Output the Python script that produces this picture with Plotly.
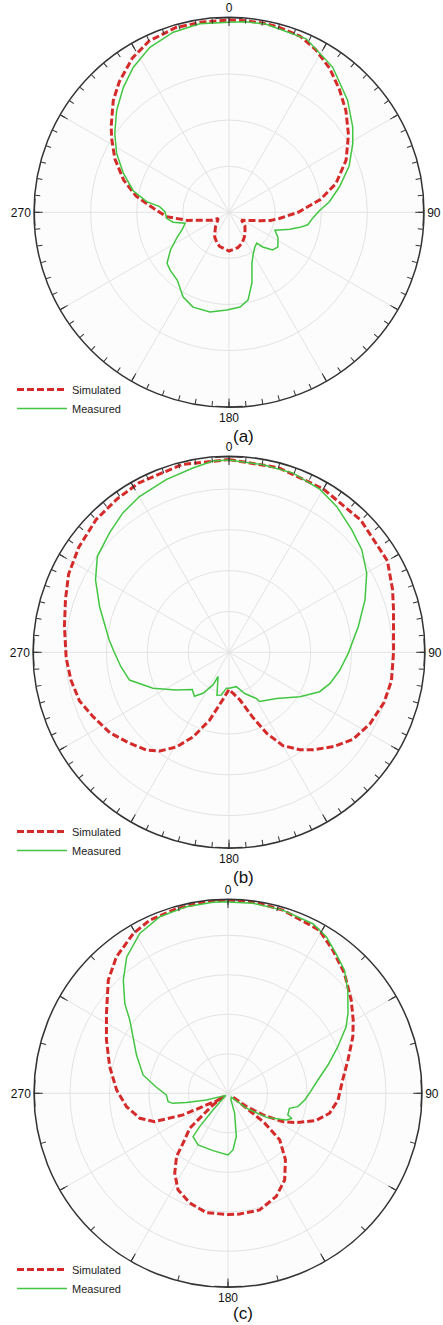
import plotly.graph_objects as go

# ---------------- data (angle in degrees, level in dB) ----------------
A_SIM_THETA = [0, 5, 10, 15, 22, 28, 35, 42, 49, 57, 66, 75, 82, 90, 97, 101, 105, 109, 115, 120, 122,
               130, 138, 148, 157, 166, 180, 195, 201, 210, 214, 223, 230, 240, 245, 250, 255, 259,
               266, 273, 280, 287, 295, 302, 306, 314, 320, 328, 335, 344, 352, 360]
A_SIM_DB = [1.7, 1.7, 1.7, 1.6, 1.2, 0.0, -1.9, -4.2, -6.4, -9.1, -12.2, -16.0, -20.0, -25.0, -29.0, -30.8,
            -33.0, -34.5, -35.8, -36.6, -36.8, -35.5, -34.8, -33.7, -32.7, -32.1, -31.6, -32.3, -32.8,
            -33.8, -34.5, -35.7, -36.6, -37.3, -35.9, -35.0, -33.3, -30.8, -26.4, -23.6, -19.5, -16.1,
            -12.7, -10.0, -8.4, -5.1, -3.0, -0.5, 1.0, 1.7, 1.7, 1.7]

A_MEAS_THETA = [0, 5, 11, 24, 35.5, 46.6, 55.4, 61, 69, 77, 84, 89, 94, 99, 102, 105.6, 108, 111.4, 117,
                121, 125.5, 130.8, 135.8, 138, 143.4, 150, 155.7, 162, 167.8, 173.4, 181.2, 190.8, 200.8,
                208.4, 217.4, 225.5, 230.6, 237.2, 244.3, 250, 256, 260, 264.5, 270.6, 274.7, 277.4,
                282.7, 290.2, 297.6, 304.6, 312.2, 319.8, 326.6, 334.4, 342.8, 351.2, 360]
A_MEAS_DB = [1.2, 1.5, 1.6, 1.2, -1.3, -4.6, -7.4, -9.3, -12.1, -15.4, -18.1, -20.4, -21.8, -22.7, -24.3,
             -26.3, -27.7, -29.3, -28.1, -27.6, -27.0, -27.5, -29.5, -31.0, -30.6, -29.5, -27.9, -23.9,
             -20.5, -19.3, -18.8, -18.0, -18.0, -19.1, -21.5, -22.1, -22.6, -24.9, -27.5, -29.2, -30.2,
             -27.7, -26.4, -26.1, -24.9, -22.0, -18.7, -15.6, -12.5, -9.9, -7.1, -4.5, -2.3, -0.3, 0.9,
             1.4, 1.2]

B_SIM_THETA = [0, 15, 30, 45, 60, 69, 75, 90, 100, 108, 117, 125, 132, 139, 144, 150, 155, 160, 167, 173,
               180, 187, 196, 203, 209, 215, 220, 228, 236, 245, 252, 260, 268, 279, 288, 296, 305, 315,
               324, 332, 346, 360]
B_SIM_DB = [7.2, 6.8, 6.2, 5.7, 4.8, 2.9, 1.7, 0.3, 0.4, -0.1, -1.3, -2.9, -5.5, -8.4, -10.5, -13.6, -18.1,
            -23.1, -28.0, -29.6, -30.9, -28.5, -22.7, -17.5, -13.5, -10.5, -8.7, -6.9, -4.8, -3.1, -1.5,
            -0.7, -0.1, 0.8, 2.1, 3.7, 4.9, 6.0, 6.5, 7.0, 7.4, 7.2]

B_MEAS_THETA = [0, 10.3, 19.7, 29.2, 36.4, 45, 52.3, 60.1, 68.9, 78.7, 90.5, 99.1, 107.1, 113.5, 122.1,
                134.2, 148.1, 149.3, 159.1, 168, 180, 184.2, 190.2, 195.7, 204.3, 206.1, 212.4, 218.2,
                224.7, 234.4, 244.7, 254.4, 262.4, 270, 275.9, 289.4, 298.5, 306.1, 315.1, 322.7, 330.1,
                340, 348.9, 355.2, 360]
B_MEAS_DB = [7.1, 6.7, 6.6, 5.7, 4.4, 2.5, 1.1, -1.1, -4.3, -7.7, -10.8, -12.5, -14.1, -15.8, -19.5, -23.8,
             -25.8, -26.8, -29.2, -31.4, -31.2, -31.2, -29.4, -29.1, -33.5, -31.1, -28.1, -26.3, -27.2,
             -24.1, -19.4, -14.7, -13.3, -11.9, -10.5, -6.4, -2.8, -0.1, 1.4, 2.9, 4.0, 5.0, 6.0, 7.0, 7.1]

C_SIM_THETA = [0, 7.4, 16.7, 29.3, 36.2, 44.2, 52.9, 59.7, 65.6, 74.5, 83.4, 93.5, 101.1, 107.2, 113.2,
               117.3, 121.8, 126, 127.5, 129, 132, 139.1, 146.8, 154.9, 164.8, 174.5, 180, 190.3, 199.2,
               207.4, 213.7, 219.2, 222, 227.6, 232, 234, 236, 241.7, 244.3, 248.9, 254.2, 262.5, 271.7,
               282.7, 293.7, 303.3, 313.4, 320.7, 329.3, 335.7, 344.5, 353.6, 360]
C_SIM_DB = [8.9, 8.9, 8.4, 7.3, 4.9, 2.3, -0.9, -3.3, -5.3, -8.5, -10.8, -12.1, -13.8, -16.7, -21.2, -24.3,
            -29.6, -34.3, -38.7, -28.2, -22.4, -17.8, -13.8, -11.2, -9.4, -9.3, -9.3, -9.3, -10.6, -12.5,
            -15.7, -19.4, -23.0, -26.9, -34.9, -38.7, -36.6, -33.8, -27.4, -20.1, -16.8, -14.1, -11.8,
            -9.3, -6.4, -3.2, 1.7, 4.6, 7.0, 8.1, 8.5, 8.9, 8.9]

C_MEAS_THETA = [0, 7.4, 16.4, 26.6, 32.1, 37.7, 43.4, 49.3, 56.3, 60.6, 67, 74.2, 81.6, 90, 95, 100.8,
                103.7, 109.9, 111.5, 114.6, 122, 129, 140, 155, 161.6, 169.1, 175, 180, 194.7, 210.1,
                218.9, 220.4, 222, 226, 240, 252.9, 257.4, 259.7, 262.1, 268.5, 274.8, 282.2, 292.7,
                300.8, 306.7, 311, 317.2, 323.4, 331.1, 338.9, 347.4, 355.5, 360]
C_MEAS_DB = [8.4, 8.5, 8.4, 8.0, 6.8, 4.7, 2.9, 0.0, -3.5, -5.7, -9.8, -13.7, -17.0, -19.4, -20.5, -22.0,
             -24.0, -23.9, -22.6, -23.8, -28.5, -34.0, -38.7, -38.3, -34.7, -28.9, -25.6, -24.4, -25.0,
             -24.9, -25.9, -29.0, -34.4, -39.2, -38.7, -34.3, -29.2, -25.8, -24.7, -24.4, -21.8, -18.0,
             -14.9, -12.0, -9.0, -5.4, -1.0, 3.0, 6.2, 7.9, 8.4, 8.5, 8.5]

SERIES_NAMES = ["Simulated", "Measured"]
PANEL_LABELS = ["(a)", "(b)", "(c)"]
ANGLE_TICKS = [0, 30, 60, 90, 120, 150, 180, 210, 240, 270, 300, 330]
ANGLE_TEXT = ["0", "", "", "90", "", "", "180", "", "", "270", "", ""]

# ---------------- styling / layout ----------------
W, H = 443, 1325
FONT = "Liberation Sans, Arial, sans-serif"
RED = "#d42a2a"
GREEN = "#42c642"
R_MIN = -40

panels = [
    dict(sim=(A_SIM_THETA, A_SIM_DB), meas=(A_MEAS_THETA, A_MEAS_DB), top=2.3,
         grid=[-30, -20, -10], minor=5, cx=229, cy=212.3, R=195, lab_y=436, leg_y=375),
    dict(sim=(B_SIM_THETA, B_SIM_DB), meas=(B_MEAS_THETA, B_MEAS_DB), top=8.0,
         grid=[-30, -20, -10, 0], minor=5, cx=229, cy=652.3, R=196, lab_y=877, leg_y=817),
    dict(sim=(C_SIM_THETA, C_SIM_DB), meas=(C_MEAS_THETA, C_MEAS_DB), top=9.1,
         grid=[-30, -20, -10, 0], minor=15, cx=228, cy=1093.3, R=194, lab_y=1313, leg_y=1255),
]

fig = go.Figure()
layout = dict(
    width=W, height=H, margin=dict(l=0, r=0, t=0, b=0),
    paper_bgcolor="white", plot_bgcolor="white",
    font=dict(family=FONT, size=12, color="#222"),
    annotations=[],
)

for i, p in enumerate(panels):
    base = "polar" if i == 0 else f"polar{i + 1}"
    over = f"polar{i + 4}"
    leg = "legend" if i == 0 else f"legend{i + 1}"
    dom_x = [(p["cx"] - p["R"]) / W, (p["cx"] + p["R"]) / W]
    dom_y = [1 - (p["cy"] + p["R"]) / H, 1 - (p["cy"] - p["R"]) / H]

    layout[base] = dict(
        domain=dict(x=dom_x, y=dom_y),
        bgcolor="#fcfcfc",
        radialaxis=dict(range=[R_MIN, p["top"]], tickvals=p["grid"], showticklabels=False,
                        ticks="", showline=False, gridcolor="#e3e3e3", gridwidth=1),
        angularaxis=dict(rotation=90, direction="clockwise", tickvals=ANGLE_TICKS,
                         ticktext=ANGLE_TEXT, ticks="inside", ticklen=8, tickwidth=1,
                         tickcolor="#333", showline=True, linecolor="#333", linewidth=1.5,
                         gridcolor="#e3e3e3", gridwidth=1,
                         tickfont=dict(family=FONT, size=12, color="#111")),
    )
    minor_vals = list(range(0, 360, p["minor"]))
    layout[over] = dict(
        domain=dict(x=dom_x, y=dom_y),
        bgcolor="rgba(0,0,0,0)",
        radialaxis=dict(visible=False, range=[R_MIN, p["top"]]),
        angularaxis=dict(rotation=90, direction="clockwise", tickvals=minor_vals,
                         ticks="inside", ticklen=5, tickwidth=1, tickcolor="#333",
                         showticklabels=False, showgrid=False, showline=False),
    )

    # thick segments at the cardinal directions
    for card in [0, 90, 180, 270]:
        seg_t = [(card + d) % 360 for d in (-4, -2, 0, 2, 4)]
        fig.add_trace(go.Scatterpolar(theta=seg_t, r=[p["top"]] * len(seg_t), mode="lines",
                                      line=dict(color="#333", width=2.2), subplot=base,
                                      showlegend=False, hoverinfo="skip", cliponaxis=False))

    fig.add_trace(go.Scatterpolar(theta=p["sim"][0], r=p["sim"][1], mode="lines", name=SERIES_NAMES[0],
                                  line=dict(color=RED, width=3, dash="7px,3px"),
                                  subplot=base, legend=leg))
    fig.add_trace(go.Scatterpolar(theta=p["meas"][0], r=p["meas"][1], mode="lines", name=SERIES_NAMES[1],
                                  line=dict(color=GREEN, width=1.5),
                                  subplot=base, legend=leg))
    fig.add_trace(go.Scatterpolar(theta=[], r=[], subplot=over, showlegend=False, hoverinfo="skip"))

    layout[leg] = dict(x=12 / W, y=1 - p["leg_y"] / H, xanchor="left", yanchor="top",
                       bgcolor="rgba(0,0,0,0)", font=dict(family=FONT, size=11, color="#222"),
                       itemwidth=50, tracegroupgap=0)

    layout["annotations"].append(dict(text=PANEL_LABELS[i], x=243 / W, y=1 - p["lab_y"] / H,
                                      xref="paper", yref="paper", showarrow=False,
                                      xanchor="center", yanchor="middle",
                                      font=dict(family=FONT, size=17, color="#111")))

fig.update_layout(**layout)
fig.write_html("out.html", config={"displayModeBar": False},
               post_script="document.body.style.margin='0';document.body.style.padding='0';"
                           "document.body.style.overflow='hidden';")
